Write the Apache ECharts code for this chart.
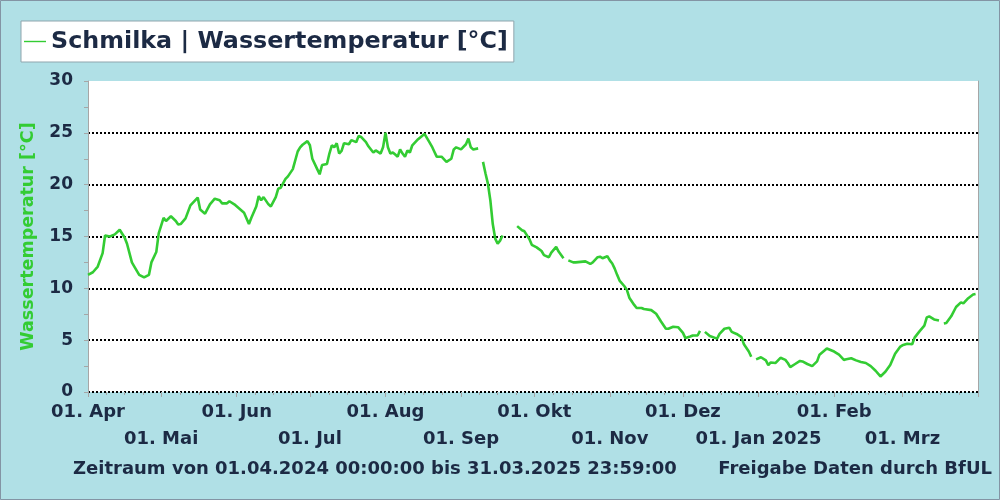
<!DOCTYPE html>
<html><head><meta charset="utf-8">
<script src="https://cdn.jsdelivr.net/npm/echarts@6/dist/echarts.min.js"></script>
<style>html,body{margin:0;padding:0;background:#b0e0e6}#c{width:1000px;height:500px}</style>
</head><body><div id="c"></div>
<script>
// ---- data ----
const seriesName = 'Schmilka | Wassertemperatur [°C]';
const yAxisName = 'Wassertemperatur [°C]';
const footerLeft = 'Zeitraum von 01.04.2024 00:00:00 bis 31.03.2025 23:59:00';
const footerRight = 'Freigabe Daten durch BfUL';
// day offsets from 01.04.2024 and water temperature (°C); null = gap in record
const days = [0,2,4,6,7,9,11,13,15,16,18,19,21,23,25,26,28,29,31,32,34,36,37,38,40,42,45,46,48,50,52,54,55,57,58,60,62,64,66,67,69,70,71,72,74,75,77,78,79,81,82,84,86,87,88,90,91,92,94,95,96,98,99,100,101,102,103,104,105,107,108,110,111,112,114,115,117,118,120,121,122,123,124,125,126,127,128,129,130,131,132,133,135,137,138,140,141,142,143,145,147,149,150,151,153,155,156,157,158,160,161,162,163,164,165,166,167,168,169,170,171,176,178,179,181,182,184,186,187,189,190,192,193,195,196,197,199,200,202,204,206,207,209,210,211,213,214,215,216,217,218,220,221,222,224,225,227,228,231,233,235,237,238,240,242,244,245,247,248,250,251,252,253,255,258,259,261,263,264,266,268,269,271,272,273,274,276,278,279,280,282,284,286,287,288,290,292,293,295,297,299,300,303,305,306,308,310,311,313,315,317,319,321,323,325,327,329,331,333,334,336,338,339,341,343,344,345,347,349,350,351,352,354,356,358,359,361,363,364];
const temps = [11.3,11.55,12.1,13.4,15.1,15.0,15.2,15.65,14.9,14.3,12.5,12.1,11.3,11.05,11.3,12.5,13.5,15.3,16.8,16.5,16.95,16.5,16.15,16.2,16.75,18.0,18.75,17.6,17.2,18.1,18.65,18.5,18.2,18.2,18.4,18.1,17.7,17.3,16.2,16.8,17.9,18.9,18.5,18.8,18.1,17.9,18.8,19.6,19.7,20.55,20.8,21.5,23.2,23.6,23.85,24.2,23.8,22.5,21.5,21.0,21.9,22.0,23.0,23.8,23.6,24.0,23.0,23.25,24.0,23.9,24.3,24.1,24.7,24.6,24.1,23.7,23.1,23.3,23.0,23.6,25.0,23.6,23.0,23.1,22.9,22.7,23.4,23.0,22.7,23.3,23.1,23.8,24.3,24.7,24.9,24.1,23.7,23.2,22.7,22.7,22.2,22.5,23.4,23.6,23.4,23.9,24.45,23.6,23.4,23.5,null,22.2,21.1,20.1,18.5,16.2,14.8,14.3,14.6,15.1,null,16.0,15.6,15.5,14.75,14.2,13.95,13.6,13.2,13.0,13.45,14.0,13.55,12.9,null,12.7,12.5,12.5,12.55,12.6,12.35,12.5,13.0,13.05,12.9,13.1,12.7,12.4,11.9,11.3,10.75,10.2,9.85,9.1,8.4,8.1,8.1,8.0,7.9,7.55,6.8,6.1,6.1,6.3,6.25,5.7,5.2,5.35,5.45,5.45,5.9,null,5.8,5.4,5.15,5.6,6.1,6.2,5.8,5.6,5.3,4.6,3.9,3.4,null,3.15,3.35,3.05,2.6,2.85,2.8,3.3,3.1,2.8,2.4,2.7,3.0,2.95,2.7,2.5,2.95,3.6,4.2,4.0,3.9,3.6,3.1,3.15,3.25,3.05,2.9,2.8,2.5,2.05,1.5,1.95,2.6,3.7,4.35,4.5,4.65,4.6,5.25,5.85,6.4,7.2,7.3,7.0,6.9,null,6.6,6.65,7.3,8.2,8.65,8.55,9.05,9.4,9.45];
const monthLabels = ['01. Apr','01. Mai','01. Jun','01. Jul','01. Aug','01. Sep','01. Okt','01. Nov','01. Dez','01. Jan 2025','01. Feb','01. Mrz'];
const yMin = 0, yMax = 30, yStep = 5;

// ---- build ----
const FONT = 'DejaVu Sans';
const TXT = '#1c2a44';
const GREEN = '#33cc33';
const TICK = '#a6a6a6';
const t0 = new Date(2024, 3, 1).getTime();
const tEnd = new Date(2025, 3, 1).getTime();
const data = days.map((d, i) => [new Date(2024, 3, 1 + d).getTime(), temps[i] == null ? '-' : temps[i]]);
const monthTs = [];
for (let i = 0; i <= 12; i++) monthTs.push(new Date(2024, 3 + i, 1).getTime());
const minorTs = [];
for (let i = 0; i < 12; i++) { const a = monthTs[i], b = monthTs[i + 1]; for (let k = 1; k < 4; k++) minorTs.push(a + (b - a) * k / 4); }
const labelFor = v => { const i = monthTs.indexOf(v); return i >= 0 && i < 12 ? monthLabels[i] : ''; };
const row1 = monthTs.slice(0, 12).filter((v, i) => i % 2 === 0);
const row2 = monthTs.slice(0, 12).filter((v, i) => i % 2 === 1);
const lblStyle = { fontSize: 18, fontWeight: 'bold', fontFamily: FONT, color: TXT };

const chart = echarts.init(document.getElementById('c'), null, { renderer: 'canvas' });
chart.setOption({
  animation: false,
  backgroundColor: '#b0e0e6',
  textStyle: { fontFamily: FONT },
  grid: { left: 88, right: 22, top: 81, bottom: 108, show: true, backgroundColor: '#ffffff', borderWidth: 0, containLabel: false, outerBoundsMode: 'none' },
  legend: {
    left: 21, top: 21, padding: [5, 6, 5, 3], backgroundColor: '#ffffff', borderColor: '#8fa5ad', borderWidth: 1,
    icon: 'rect', itemWidth: 22, itemHeight: 1.4, itemStyle: { color: GREEN, borderWidth: 0 },
    textStyle: { fontSize: 23.8, fontWeight: 'bold', fontFamily: FONT, color: TXT, lineHeight: 31 },
    data: [seriesName]
  },
  xAxis: [
    { type: 'value', min: t0, max: tEnd, position: 'bottom',
      axisLine: { show: false }, splitLine: { show: false },
      axisTick: { show: true, customValues: monthTs, length: 5, lineStyle: { color: TICK } },
      axisLabel: Object.assign({ customValues: row1, formatter: labelFor, margin: 11, hideOverlap: false, showMinLabel: true, showMaxLabel: true }, lblStyle) },
    { type: 'value', min: t0, max: tEnd, position: 'bottom',
      axisLine: { show: false }, splitLine: { show: false },
      axisTick: { show: true, customValues: minorTs, length: 3, lineStyle: { color: TICK } },
      axisLabel: Object.assign({ customValues: row2, formatter: labelFor, margin: 38, hideOverlap: false }, lblStyle) }
  ],
  yAxis: [
    { type: 'value', min: yMin, max: yMax, interval: yStep, position: 'left',
      name: yAxisName, nameLocation: 'middle', nameGap: 51,
      nameTextStyle: { color: GREEN, fontSize: 17.5, fontWeight: 'bold', fontFamily: FONT },
      axisLine: { show: true, lineStyle: { color: TICK } },
      axisTick: { show: true, length: 4, lineStyle: { color: TICK } },
      minorTick: { show: true, splitNumber: 2, length: 4, lineStyle: { color: TICK } },
      axisLabel: { margin: 15, fontSize: 17, fontWeight: 'bold', fontFamily: FONT, color: TXT },
      splitLine: { show: true, showMaxLine: false, lineStyle: { type: 'dotted', width: 2, color: '#000' } } },
    { type: 'value', min: yMin, max: yMax, position: 'right',
      axisLine: { show: true, lineStyle: { color: TICK } }, axisTick: { show: false },
      axisLabel: { show: false }, splitLine: { show: false } }
  ],
  series: [{
    type: 'line', name: seriesName, data: data, xAxisIndex: 0, yAxisIndex: 0,
    symbol: 'none', showSymbol: false, connectNulls: false,
    lineStyle: { color: GREEN, width: 2.6 }, itemStyle: { color: GREEN }
  }],
  graphic: [
    { type: 'text', left: 73, top: 460, style: { text: footerLeft, fill: TXT, font: 'bold 18px "DejaVu Sans"' } },
    { type: 'text', right: 8, top: 460, style: { text: footerRight, fill: TXT, font: 'bold 18px "DejaVu Sans"' } },
    { type: 'rect', silent: true, z: 100, shape: { x: 0.5, y: 0.5, width: 999, height: 499 }, style: { fill: 'none', stroke: '#8394a4', lineWidth: 1 } }
  ]
});
</script></body></html>
